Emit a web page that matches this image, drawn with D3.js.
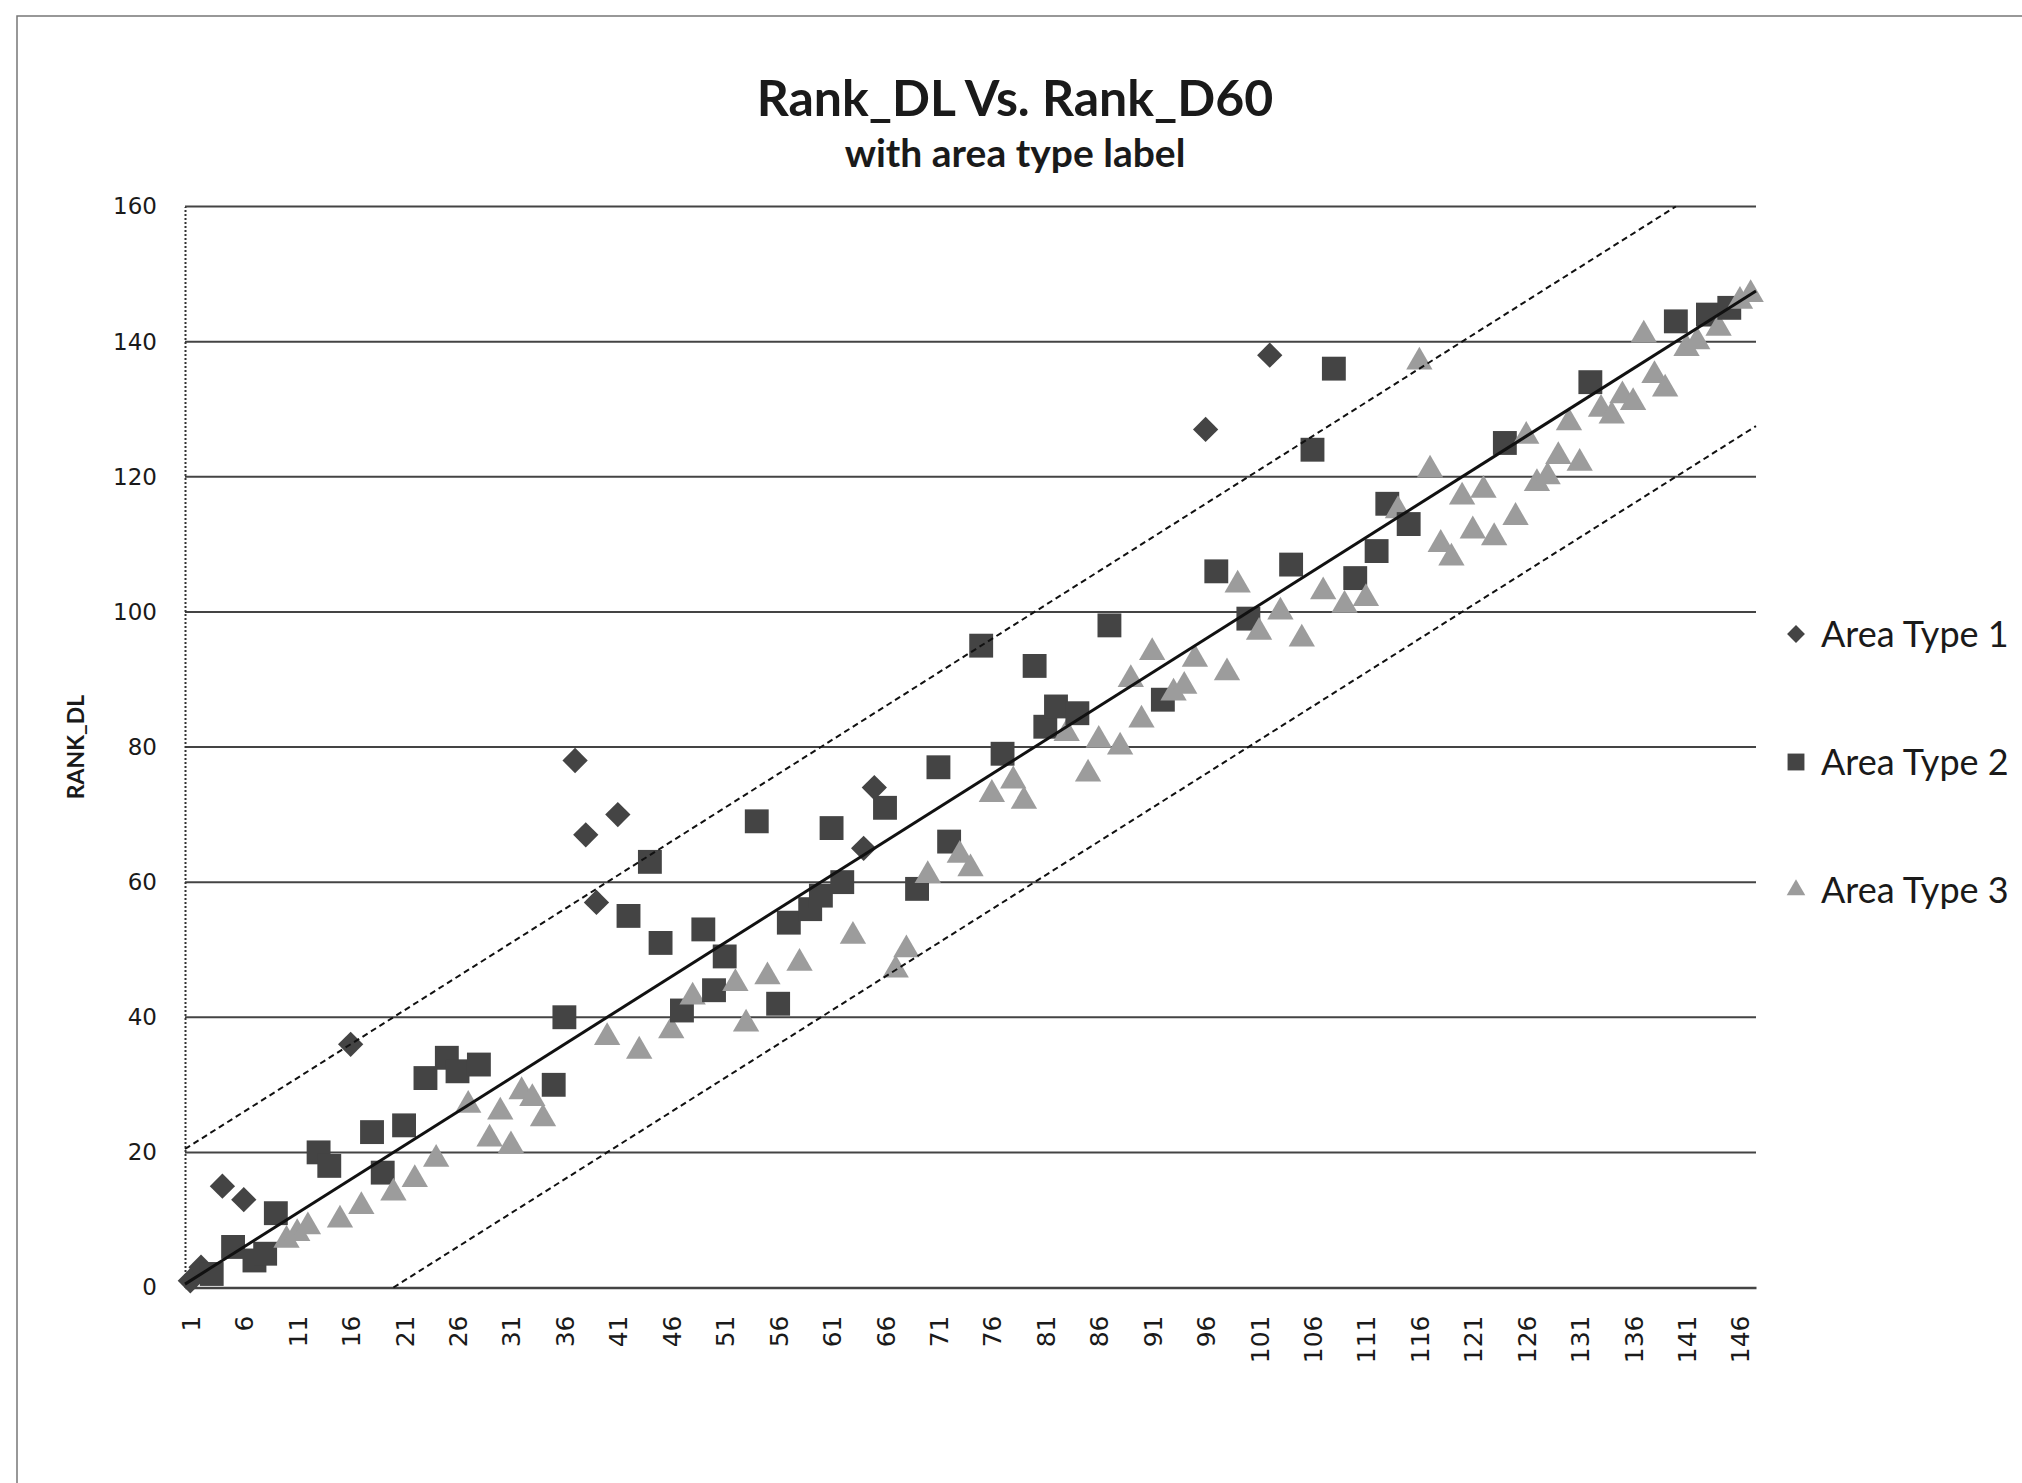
<!DOCTYPE html>
<html>
<head>
<meta charset="utf-8">
<title>Rank_DL Vs. Rank_D60</title>
<script src="https://d3js.org/d3.v7.min.js"></script>
<style>
  html, body { margin: 0; padding: 0; background: #fff; overflow: hidden; }
  text { fill: #1a1a1a; }
</style>
</head>
<body>
<svg id="chart" width="2022" height="1483"></svg>
<script>
// Rank_D60 is the category (1..147); each category has one Rank_DL value
const rankDL = [
  1, 3, 2, 15, 6, 13, 4, 5, 11, 7,
  8, 9, 20, 18, 10, 36, 12, 23, 17, 14,
  24, 16, 31, 19, 34, 32, 27, 33, 22, 26,
  21, 29, 28, 25, 30, 40, 78, 67, 57, 37,
  70, 55, 35, 63, 51, 38, 41, 43, 53, 44,
  49, 45, 39, 69, 46, 42, 54, 48, 56, 58,
  68, 60, 52, 65, 74, 71, 47, 50, 59, 61,
  77, 66, 64, 62, 95, 73, 79, 75, 72, 92,
  83, 86, 82, 85, 76, 81, 98, 80, 90, 84,
  94, 87, 88, 89, 93, 127, 106, 91, 104, 99,
  97, 138, 100, 107, 96, 124, 103, 136, 101, 105,
  102, 109, 116, 115, 113, 137, 121, 110, 108, 117,
  112, 118, 111, 125, 114, 126, 119, 120, 123, 128,
  122, 134, 130, 129, 132, 131, 141, 135, 133, 143,
  139, 140, 144, 142, 145, 146, 147
];
// which area type (series) each category belongs to
const areaType = [
  1, 1, 2, 1, 2, 1, 2, 2, 2, 3,
  3, 3, 2, 2, 3, 1, 3, 2, 2, 3,
  2, 3, 2, 3, 2, 2, 3, 2, 3, 3,
  3, 3, 3, 3, 2, 2, 1, 1, 1, 3,
  1, 2, 3, 2, 2, 3, 2, 3, 2, 2,
  2, 3, 3, 2, 3, 2, 2, 3, 2, 2,
  2, 2, 3, 1, 1, 2, 3, 3, 2, 3,
  2, 2, 3, 3, 2, 3, 2, 3, 3, 2,
  2, 2, 3, 2, 3, 3, 2, 3, 3, 3,
  3, 2, 3, 3, 3, 1, 2, 3, 3, 2,
  3, 1, 3, 2, 3, 2, 3, 2, 3, 2,
  3, 2, 2, 3, 2, 3, 3, 3, 3, 3,
  3, 3, 3, 2, 3, 3, 3, 3, 3, 3,
  3, 2, 3, 3, 3, 3, 3, 3, 3, 2,
  3, 3, 2, 3, 2, 3, 3
];
const seriesNames = ["Area Type 1", "Area Type 2", "Area Type 3"];
const yTicks = [0, 20, 40, 60, 80, 100, 120, 140, 160];
const xTickLabels = [1, 6, 11, 16, 21, 26, 31, 36, 41, 46, 51, 56, 61, 66, 71,
  76, 81, 86, 91, 96, 101, 106, 111, 116, 121, 126, 131, 136, 141, 146];
// reference lines: Rank_DL = Rank_D60 + offset
const refOffsets = [0, 20, -20];

const nCat = rankDL.length;
const plot = { left: 185, right: 1756, top: 206.5, bottom: 1287.5 };

const svg = d3.select("#chart");
svg.append("rect").attr("width", 2022).attr("height", 1483).attr("fill", "#fff");

// outer chart frame (only top and left are inside the picture)
svg.append("path")
  .attr("d", "M17,1483 L17,16 L2022,16")
  .attr("fill", "none")
  .attr("stroke", "#777")
  .attr("stroke-width", 1.5);

const xScale = d3.scaleLinear().domain([0.5, nCat + 0.5]).range([plot.left, plot.right]);
const yScale = d3.scaleLinear().domain([0, 160]).range([plot.bottom, plot.top]);

// gridlines
svg.append("g")
  .selectAll("line")
  .data(yTicks.filter(d => d > 0))
  .enter()
  .append("line")
  .attr("x1", plot.left)
  .attr("x2", plot.right)
  .attr("y1", d => yScale(d))
  .attr("y2", d => yScale(d))
  .style("stroke", "#444")
  .style("stroke-width", "2px");

// y axis
const yAxis = svg.append("g")
  .attr("transform", "translate(" + plot.left + ",0)")
  .call(d3.axisLeft(yScale).tickValues(yTicks).tickSize(0).tickPadding(28));
yAxis.select(".domain")
  .style("stroke", "#333")
  .style("stroke-width", "2px")
  .style("stroke-dasharray", "2 2");
yAxis.selectAll("text")
  .style("font-family", "'DejaVu Sans', Verdana, sans-serif")
  .style("font-size", "23px")
  .style("fill", "#1a1a1a");

// x axis
const xAxis = svg.append("g")
  .attr("transform", "translate(0," + plot.bottom + ")")
  .call(d3.axisBottom(xScale).tickValues(xTickLabels).tickSize(0).tickFormat(d3.format("d")));
xAxis.select(".domain")
  .style("stroke", "#444")
  .style("stroke-width", "2.5px");
xAxis.selectAll("text")
  .style("font-family", "'DejaVu Sans', Verdana, sans-serif")
  .style("font-size", "25px")
  .style("fill", "#1a1a1a")
  .attr("text-anchor", "end")
  .attr("transform", "rotate(-90)")
  .attr("x", -28)
  .attr("y", 0)
  .attr("dy", "0.36em");

// axis title
svg.append("text")
  .attr("transform", "translate(84," + (plot.top + plot.bottom) / 2 + ") rotate(-90)")
  .attr("text-anchor", "middle")
  .style("font-family", "Lato, 'Open Sans', sans-serif")
  .style("font-weight", "bold")
  .style("font-size", "23px")
  .text("RANK_DL");

// chart titles
svg.append("text")
  .attr("x", 1015)
  .attr("y", 116)
  .attr("text-anchor", "middle")
  .style("font-family", "Lato, 'Open Sans', sans-serif")
  .style("font-weight", "bold")
  .style("font-size", "50px")
  .text("Rank_DL Vs. Rank_D60");
svg.append("text")
  .attr("x", 1015)
  .attr("y", 167)
  .attr("text-anchor", "middle")
  .style("font-family", "Lato, 'Open Sans', sans-serif")
  .style("font-weight", "bold")
  .style("font-size", "39px")
  .text("with area type label");

// markers
const fills = ["#444", "#444", "#9c9c9c"];
function symbolPath(type, scale) {
  if (type === 1) return d3.symbol().type(d3.symbolSquare).size(320 * scale)();
  if (type === 2) return d3.symbol().type(d3.symbolSquare).size(570 * scale)();
  return d3.symbol().type(d3.symbolTriangle).size(300 * scale)();
}

const points = rankDL.map((v, i) => ({ cat: i + 1, value: v, type: areaType[i] }));

svg.append("g")
  .selectAll("path")
  .data(points)
  .enter()
  .append("path")
  .attr("d", d => symbolPath(d.type, 1))
  .attr("transform", d => "translate(" + xScale(d.cat) + "," + yScale(d.value) + ")" + (d.type === 1 ? " rotate(45)" : ""))
  .style("fill", d => fills[d.type - 1]);

// reference lines
const line = d3.line().x(d => xScale(d[0])).y(d => yScale(d[1]));
svg.append("g")
  .selectAll("path")
  .data(refOffsets)
  .enter()
  .append("path")
  .attr("d", off => {
    const x0 = Math.max(0.5, -off);
    const x1 = Math.min(nCat + 0.5, 160 - off);
    return line([[x0, x0 + off], [x1, x1 + off]]);
  })
  .style("fill", "none")
  .style("stroke", "#111")
  .style("stroke-width", off => off === 0 ? "3px" : "2px")
  .style("stroke-dasharray", off => off === 0 ? null : "6 4");

// legend
const legend = svg.append("g")
  .selectAll("g")
  .data(seriesNames)
  .enter()
  .append("g")
  .attr("transform", (d, i) => "translate(1796," + (634 + i * 128) + ")");
legend.append("path")
  .attr("d", (d, i) => symbolPath(i + 1, 0.5))
  .attr("transform", (d, i) => i === 0 ? "rotate(45)" : null)
  .style("fill", (d, i) => fills[i]);
legend.append("text")
  .attr("x", 25)
  .attr("dy", "0.36em")
  .style("font-family", "Lato, 'Open Sans', sans-serif")
  .style("font-size", "36px")
  .text(d => d);
</script>
</body>
</html>
